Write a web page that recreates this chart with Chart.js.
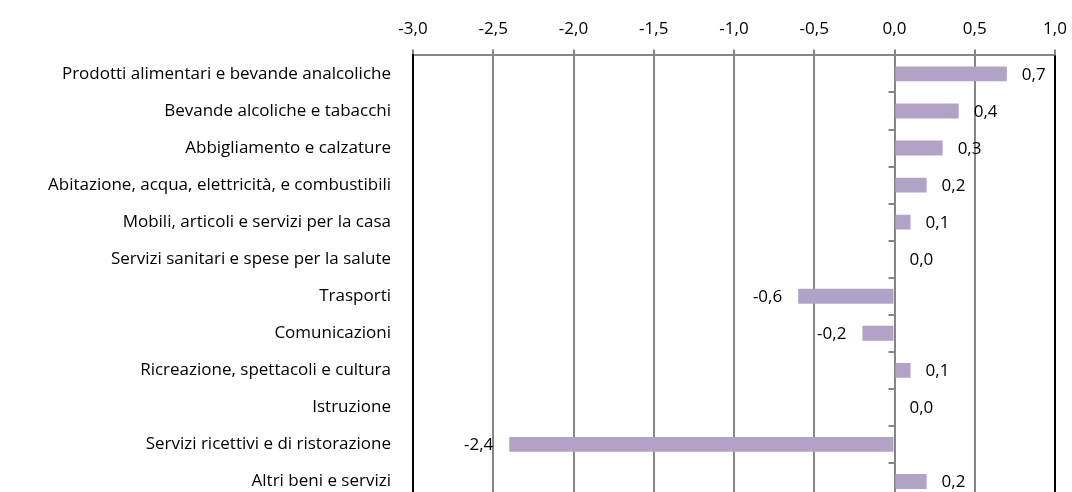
<!DOCTYPE html>
<html>
<head>
<meta charset="utf-8">
<script src="https://cdn.jsdelivr.net/npm/chart.js@4.4.0/dist/chart.umd.min.js"></script>
<style>
    html, body { margin: 0; padding: 0; background: #fff; overflow: hidden; }
    #wrap { position: absolute; left: 0; top: 0; width: 1072px; height: 500px; }
</style>
</head>
<body>
<div id="wrap"><canvas id="chart"></canvas></div>
<script>
// Categories and values (variazione, punti percentuali)
const categories = [
    'Prodotti alimentari e bevande analcoliche',
    'Bevande alcoliche e tabacchi',
    'Abbigliamento e calzature',
    'Abitazione, acqua, elettricità, e combustibili',
    'Mobili, articoli e servizi per la casa',
    'Servizi sanitari e spese per la salute',
    'Trasporti',
    'Comunicazioni',
    'Ricreazione, spettacoli e cultura',
    'Istruzione',
    'Servizi ricettivi e di ristorazione',
    'Altri beni e servizi'
];
const values = [0.7, 0.4, 0.3, 0.2, 0.1, 0.0, -0.6, -0.2, 0.1, 0.0, -2.4, 0.2];
const axisMin = -3.0;
const axisMax = 1.0;
const axisStep = 0.5;

const FONT = '"Open Sans", sans-serif';
const fmt = v => Number(v).toFixed(1).replace('.', ',');

// value labels at bar ends, borders, small ticks on the zero axis
const decorations = {
    id: 'decorations',
    afterDatasetsDraw(chart) {
        const ctx = chart.ctx;
        const area = chart.chartArea;
        const xs = chart.scales.x;
        const ys = chart.scales.y;
        const x0 = xs.getPixelForValue(0);
        const band = ys.getPixelForValue(1) - ys.getPixelForValue(0);

        ctx.save();
        // tick marks on the zero line, at category boundaries
        ctx.strokeStyle = '#868686';
        ctx.lineWidth = 2;
        for (let i = 1; i < categories.length; i++) {
            const y = Math.round(ys.getPixelForValue(i) - band / 2);
            ctx.beginPath();
            ctx.moveTo(x0 - 6, y);
            ctx.lineTo(x0, y);
            ctx.stroke();
        }
        // black right border
        ctx.strokeStyle = '#000';
        ctx.lineWidth = 2;
        ctx.beginPath();
        ctx.moveTo(area.right, area.top);
        ctx.lineTo(area.right, area.bottom);
        ctx.stroke();

        // value labels
        ctx.fillStyle = '#000';
        ctx.font = '17px ' + FONT;
        ctx.textBaseline = 'middle';
        chart.getDatasetMeta(0).data.forEach((bar, i) => {
            const v = values[i];
            if (v < 0) {
                ctx.textAlign = 'right';
                ctx.fillText(fmt(v), bar.x - 16, bar.y + 1);
            } else {
                ctx.textAlign = 'left';
                ctx.fillText(fmt(v), bar.x + 15, bar.y + 1);
            }
        });
        ctx.restore();
    }
};

const ctx = document.getElementById('chart').getContext('2d');
new Chart(ctx, {
    type: 'bar',
    data: {
        labels: categories,
        datasets: [{
            data: values,
            backgroundColor: '#b3a2c7',
            borderWidth: 0,
            barPercentage: 0.4,
            categoryPercentage: 1.0
        }]
    },
    options: {
        indexAxis: 'y',
        responsive: true,
        maintainAspectRatio: false,
        animation: false,
        layout: {
            padding: { top: 9, right: 17, bottom: 0, left: 0 }
        },
        plugins: {
            legend: { display: false },
            tooltip: { enabled: false }
        },
        scales: {
            x: {
                position: 'top',
                min: axisMin,
                max: axisMax,
                ticks: {
                    stepSize: axisStep,
                    padding: 10,
                    color: '#000',
                    font: { family: FONT, size: 17 },
                    callback: v => fmt(v)
                },
                grid: {
                    color: '#868686',
                    lineWidth: 2,
                    tickLength: 6
                },
                border: { color: '#868686', width: 2 },
                afterFit: s => {
                    s.paddingLeft = 0;
                    s.paddingRight = 0;
                }
            },
            y: {
                ticks: {
                    padding: 22,
                    color: '#000',
                    font: { family: FONT, size: 17 }
                },
                grid: { display: false, drawTicks: false },
                border: { display: true, color: '#000', width: 2 },
                afterFit: s => {
                    s.width = 413;
                    s.paddingTop = 0;
                    s.paddingBottom = 0;
                }
            }
        }
    },
    plugins: [decorations]
});
</script>
</body>
</html>
